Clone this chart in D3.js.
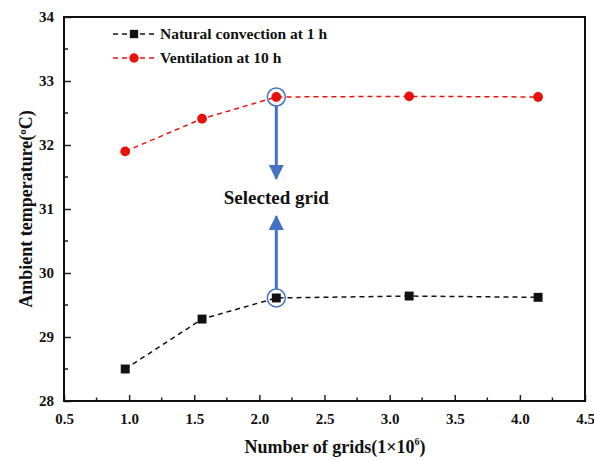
<!DOCTYPE html>
<html>
<head>
<meta charset="utf-8">
<script src="https://cdn.jsdelivr.net/npm/d3@7"></script>
<style>
  body { margin: 0; background: #fff; }
  text { font-family: "Liberation Serif", "Times New Roman", serif; font-weight: bold; }
</style>
</head>
<body>
<svg id="chart" width="594" height="460"></svg>
<script>
// grid counts (1e6) and ambient temperatures
var grids = [0.97, 1.56, 2.13, 3.15, 4.14];
var naturalConv = [28.5, 29.28, 29.61, 29.64, 29.62];
var ventilation = [31.9, 32.41, 32.75, 32.76, 32.75];
var xTicks = [0.5, 1.0, 1.5, 2.0, 2.5, 3.0, 3.5, 4.0, 4.5];
var yTicks = [28, 29, 30, 31, 32, 33, 34];
var selectedIdx = 2;

var svg = d3.select("#chart");
var margin = {left: 64, top: 17, right: 9, bottom: 59};
var W = 594 - margin.left - margin.right, H = 460 - margin.top - margin.bottom;

var x = d3.scaleLinear().domain([0.5, 4.5]).range([0, W]);
var y = d3.scaleLinear().domain([28, 34]).range([H, 0]);

var g = svg.append("g").attr("transform", "translate(" + margin.left + "," + margin.top + ")");

// axes, ticks pointing inward
var xAxis = d3.axisBottom(x).tickValues(xTicks).tickFormat(d3.format(".1f")).tickSizeInner(-6).tickSizeOuter(0).tickPadding(12);
var yAxis = d3.axisLeft(y).tickValues(yTicks).tickFormat(d3.format("d")).tickSizeInner(-7).tickSizeOuter(0).tickPadding(10);

var gx = g.append("g").attr("transform", "translate(0," + H + ")").call(xAxis);
var gy = g.append("g").call(yAxis);
[gx, gy].forEach(function(a){
  a.attr("font-family", null);
  a.select(".domain").remove();
  a.selectAll("line").attr("stroke", "#222").attr("stroke-width", 1.5);
  a.selectAll("text").attr("fill", "#111").style("font-size", "15px");
});

// minor ticks
var xMinor = d3.range(0.75, 4.5, 0.5);
g.selectAll(".xminor").data(xMinor).enter().append("line")
  .attr("x1", function(d){ return x(d); }).attr("x2", function(d){ return x(d); })
  .attr("y1", H).attr("y2", H - 3.5).attr("stroke", "#222").attr("stroke-width", 1.5);
var yMinor = d3.range(28.5, 34, 1);
g.selectAll(".yminor").data(yMinor).enter().append("line")
  .attr("y1", function(d){ return y(d); }).attr("y2", function(d){ return y(d); })
  .attr("x1", 0).attr("x2", 4).attr("stroke", "#222").attr("stroke-width", 1.5);

// frame
g.append("rect").attr("width", W).attr("height", H).attr("fill", "none")
  .attr("stroke", "#111").attr("stroke-width", 2);

var line = d3.line().x(function(d){ return x(d[0]); }).y(function(d){ return y(d[1]); });

function series(vals, color, shape) {
  var pts = grids.map(function(gv, i){ return [gv, vals[i]]; });
  g.append("path").datum(pts).attr("d", line).attr("fill", "none")
    .attr("stroke", color).attr("stroke-width", 1.5).attr("stroke-dasharray", "5,4");
  var sym = d3.symbol().type(shape).size(shape === d3.symbolSquare ? 80 : 75);
  g.selectAll(null).data(pts).enter().append("path")
    .attr("d", sym)
    .attr("transform", function(d){ return "translate(" + x(d[0]) + "," + y(d[1]) + ")"; })
    .attr("fill", color);
}
series(naturalConv, "#111", d3.symbolSquare);
series(ventilation, "#e8120c", d3.symbolCircle);

// selected grid markers
var blue = "#4472c4";
var sx = x(grids[selectedIdx]);
[ventilation[selectedIdx], naturalConv[selectedIdx]].forEach(function(v){
  g.append("circle").attr("cx", sx).attr("cy", y(v)).attr("r", 9)
    .attr("fill", "none").attr("stroke", blue).attr("stroke-width", 1.5);
});

var defs = svg.append("defs");
defs.append("marker").attr("id", "arr").attr("viewBox", "0 0 10 10")
  .attr("refX", 9).attr("refY", 5).attr("markerWidth", 5).attr("markerHeight", 5)
  .attr("markerUnits", "strokeWidth").attr("orient", "auto")
  .append("path").attr("d", "M0,0L10,5L0,10Z").attr("fill", blue);

var textY = y(31.18);
g.append("line").attr("x1", sx).attr("x2", sx)
  .attr("y1", y(ventilation[selectedIdx]) + 9).attr("y2", textY - 19)
  .attr("stroke", blue).attr("stroke-width", 3).attr("marker-end", "url(#arr)");
g.append("line").attr("x1", sx).attr("x2", sx)
  .attr("y1", y(naturalConv[selectedIdx]) - 9).attr("y2", textY + 19)
  .attr("stroke", blue).attr("stroke-width", 3).attr("marker-end", "url(#arr)");
g.append("text").attr("x", sx).attr("y", textY).attr("text-anchor", "middle")
  .attr("dy", "0.35em").style("font-size", "19px").attr("fill", "#111").text("Selected grid");

// legend
var legend = [
  {label: "Natural convection at 1 h", color: "#111", shape: d3.symbolSquare},
  {label: "Ventilation at 10 h", color: "#e8120c", shape: d3.symbolCircle}
];
var lg = g.selectAll(".leg").data(legend).enter().append("g")
  .attr("transform", function(d, i){ return "translate(49," + (17 + i * 24) + ")"; });
lg.append("line").attr("x1", 0).attr("x2", 42).attr("stroke", function(d){ return d.color; })
  .attr("stroke-width", 1.5).attr("stroke-dasharray", "5,4");
lg.append("path").attr("d", function(d){ return d3.symbol().type(d.shape).size(70)(); })
  .attr("transform", "translate(21,0)").attr("fill", function(d){ return d.color; });
lg.append("text").attr("x", 47).attr("dy", "0.35em").style("font-size", "15.5px")
  .attr("fill", "#111").text(function(d){ return d.label; });

// axis titles
var xt = svg.append("text").attr("x", 335).attr("y", 453)
  .attr("text-anchor", "middle").style("font-size", "18px").attr("fill", "#111");
xt.append("tspan").text("Number of grids(1\u00d710");
xt.append("tspan").attr("dy", -8).style("font-size", "10px").text("6");
xt.append("tspan").attr("dy", 8).text(")");

var yt = svg.append("text").attr("transform", "translate(32," + (margin.top + H / 2) + ") rotate(-90)")
  .attr("text-anchor", "middle").style("font-size", "18px").attr("fill", "#111");
yt.append("tspan").text("Ambient temperature(");
yt.append("tspan").attr("dy", -6).style("font-size", "11px").text("o");
yt.append("tspan").attr("dy", 6).text("C)");
</script>
</body>
</html>
